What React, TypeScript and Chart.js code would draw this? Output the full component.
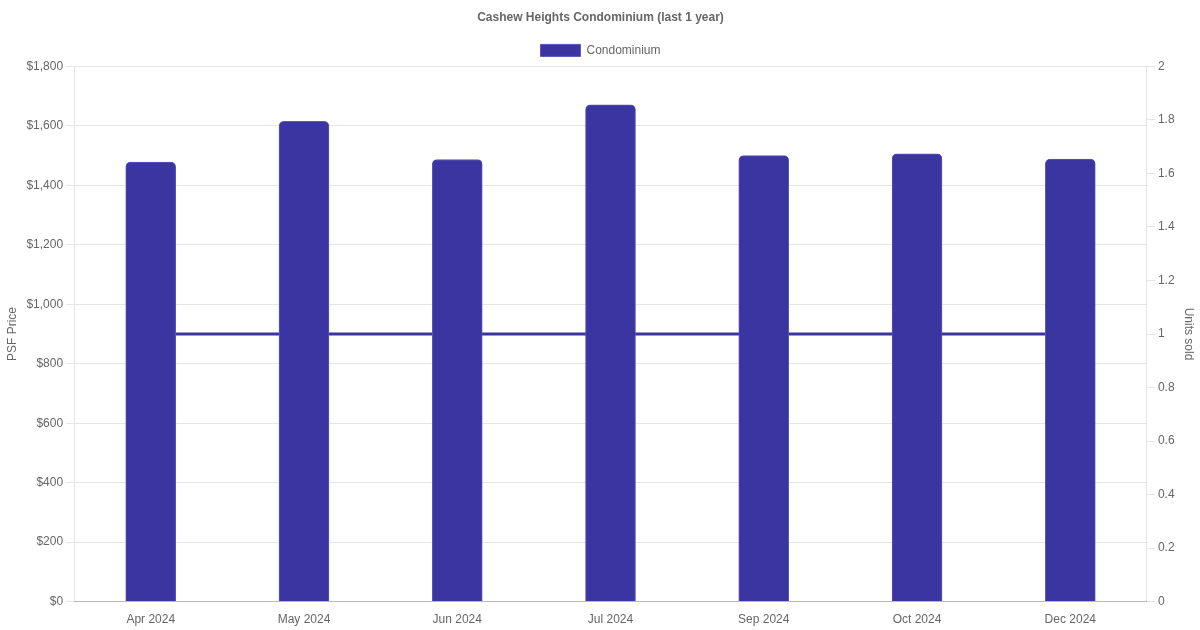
import React, { useEffect, useRef } from "react";
import { Chart, registerables } from "chart.js";

Chart.register(...registerables);

const months = ["Apr 2024", "May 2024", "Jun 2024", "Jul 2024", "Sep 2024", "Oct 2024", "Dec 2024"];
const psfPrice = [1478, 1615, 1487, 1671, 1500, 1506, 1488];
const unitsSold = [1, 1, 1, 1, 1, 1, 1];

const BAR = "#3a35a0";

export default function App() {
  const ref = useRef<HTMLCanvasElement | null>(null);
  useEffect(() => {
    if (!ref.current) return;
    Chart.defaults.font.family = "'Liberation Sans', Arial, sans-serif";
    Chart.defaults.font.size = 12;
    Chart.defaults.color = "#666";
    const chart = new Chart(ref.current, {
      type: "bar",
      data: {
        labels: months,
        datasets: [
          {
            type: "bar",
            label: "Condominium",
            data: psfPrice,
            backgroundColor: BAR,
            borderColor: "#5c58b8",
            borderWidth: 1,
            borderRadius: 5,
            borderSkipped: "bottom",
            barThickness: 50,
            yAxisID: "y",
          },
          {
            type: "line",
            label: "Units",
            data: unitsSold,
            borderColor: BAR,
            backgroundColor: BAR,
            borderWidth: 3,
            pointRadius: 0,
            fill: false,
            yAxisID: "y1",
          },
        ],
      },
      options: {
        animation: false,
        responsive: false,
        maintainAspectRatio: false,
        layout: { padding: { left: 1, right: 0, top: 0, bottom: 0 } },
        plugins: {
          title: {
            display: true,
            text: "Cashew Heights Condominium (last 1 year)",
            font: { size: 12, weight: "bold" },
            color: "#666",
            padding: { top: 10, bottom: 10 },
          },
          legend: {
            display: true,
            labels: {
              filter: (item: any) => item.text === "Condominium",
              boxWidth: 40,
              boxHeight: 12,
              font: { size: 12 },
            },
          },
          tooltip: { enabled: false },
        },
        scales: {
          x: {
            grid: { display: true, drawOnChartArea: false, tickColor: "rgba(0,0,0,0)", color: "rgba(0,0,0,0.1)" },
            border: { color: "rgba(0,0,0,0.2)" },
            ticks: { color: "#666", font: { size: 12 } },
          },
          y: {
            position: "left",
            min: 0,
            max: 1800,
            ticks: {
              stepSize: 200,
              color: "#666",
              callback: (v: any) => "$" + Number(v).toLocaleString("en-US"),
            },
            grid: { color: "rgba(0,0,0,0.1)" },
            title: { display: true, text: "PSF Price", color: "#666", font: { size: 12 } },
          },
          y1: {
            position: "right",
            min: 0,
            max: 2,
            ticks: {
              stepSize: 0.2,
              color: "#666",
              callback: (v: any) => String(Math.round(Number(v) * 10) / 10),
            },
            grid: { drawOnChartArea: false, color: "rgba(0,0,0,0.1)" },
            title: { display: true, text: "Units sold", color: "#666", font: { size: 12 } },
          },
        },
      },
    });
    return () => chart.destroy();
  }, []);
  return (
    <div style={{ position: "absolute", left: 0, top: 0, width: 1200, height: 630, background: "#fff" }}>
      <canvas ref={ref} width={1200} height={630} style={{ width: 1200, height: 630 }} />
    </div>
  );
}
